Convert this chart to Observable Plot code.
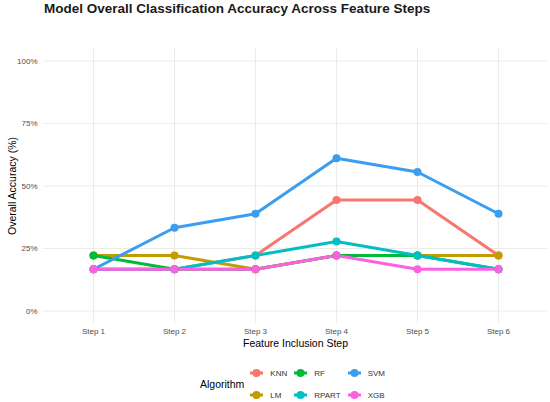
<!DOCTYPE html>
<html>
<head>
<meta charset="utf-8">
<script src="https://cdn.jsdelivr.net/npm/d3@7"></script>
<script src="https://cdn.jsdelivr.net/npm/@observablehq/plot@0.6"></script>
<style>
  html, body { margin: 0; padding: 0; background: #fff; }
  body { width: 550px; height: 402px; position: relative; overflow: hidden; font-family: "Liberation Sans", Arial, sans-serif; }
  #title { position: absolute; left: 44px; top: 0; height: 24px; line-height: 18px; font-size: 13.5px; font-weight: bold; color: #1a1a1a; white-space: nowrap; }
  #chart { position: absolute; left: 0; top: 24px; }
  #chart svg { font-family: "Liberation Sans", Arial, sans-serif; }
  #chart [aria-label="x-axis tick label"] text, #chart [aria-label="y-axis tick label"] text { font-size: 8px; fill: #4d4d4d; }
  #chart [aria-label="x-axis label"] text { font-size: 10.5px; fill: #000; }
  #legend { position: absolute; left: 200px; top: 362px; display: flex; align-items: center; }
  #legend .ttl { font-size: 10.5px; color: #000; margin-right: 6px; }
  #legend .grid { display: grid; grid-template-columns: auto auto auto; grid-auto-flow: column; grid-template-rows: 22px 22px; column-gap: 7px; }
  #legend .item { display: flex; align-items: center; font-size: 8px; color: #333; }
  #legend .item svg { margin-right: 7px; }
</style>
</head>
<body>
<div id="title">Model Overall Classification Accuracy Across Feature Steps</div>
<div id="chart"></div>
<div id="legend"></div>
<script>
const steps = ["Step 1", "Step 2", "Step 3", "Step 4", "Step 5", "Step 6"];
const algorithms = ["KNN", "LM", "RF", "RPART", "SVM", "XGB"];
const colors = ["#F8766D", "#C29D00", "#00BA38", "#00BFC4", "#3A9DF0", "#FB61E2"];
const knn   = [0.167, 0.167, 0.222, 0.444, 0.444, 0.222];
const lm    = [0.222, 0.222, 0.167, 0.222, 0.222, 0.222];
const rf    = [0.222, 0.167, 0.167, 0.222, 0.222, 0.167];
const rpart = [0.167, 0.167, 0.222, 0.278, 0.222, 0.167];
const svm   = [0.167, 0.333, 0.389, 0.611, 0.556, 0.389];
const xgb   = [0.167, 0.167, 0.167, 0.222, 0.167, 0.167];
const yTicks = [0, 0.25, 0.5, 0.75, 1];
const yTitle = "Overall Accuracy (%)";
const xTitle = "Feature Inclusion Step";

const series = [knn, lm, rf, rpart, svm, xgb];
const data = algorithms.flatMap((a, i) => steps.map((s, j) => ({algorithm: a, step: s, value: series[i][j]})));

const chart = Plot.plot({
  width: 550,
  height: 330,
  marginTop: 24,
  marginBottom: 31,
  marginLeft: 43,
  marginRight: 3,
  x: {type: "point", domain: steps, padding: 0.6},
  y: {domain: [-0.05, 1.05]},
  color: {domain: algorithms, range: colors},
  marks: [
    Plot.gridX({stroke: "#ebebeb", strokeOpacity: 1, strokeWidth: 1.1}),
    Plot.gridY(yTicks, {stroke: "#ebebeb", strokeOpacity: 1, strokeWidth: 1.1}),
    Plot.axisX({tickSize: 0, tickPadding: 5, label: xTitle, labelAnchor: "center", labelOffset: 23}),
    Plot.axisY(yTicks, {tickSize: 0, tickPadding: 6, tickFormat: d => Math.round(d * 100) + "%", label: null}),
    Plot.text([yTitle], {text: d => d, frameAnchor: "left", rotate: -90, dx: -31, fontSize: 10.5, fill: "#000", textAnchor: "middle"}),
    Plot.line(data, {x: "step", y: "value", z: "algorithm", stroke: "algorithm", strokeWidth: 3}),
    Plot.dot(data, {x: "step", y: "value", fill: "algorithm", r: 4})
  ]
});
document.getElementById("chart").appendChild(chart);

const legend = document.getElementById("legend");
legend.innerHTML = `<div class="ttl">Algorithm</div><div class="grid">` +
  algorithms.map((a, i) => `<div class="item"><svg width="13" height="10"><line x1="0" x2="13" y1="5" y2="5" stroke="${colors[i]}" stroke-width="3"/><circle cx="6.5" cy="5" r="4" fill="${colors[i]}"/></svg>${a}</div>`).join("") +
  `</div>`;
</script>
</body>
</html>
